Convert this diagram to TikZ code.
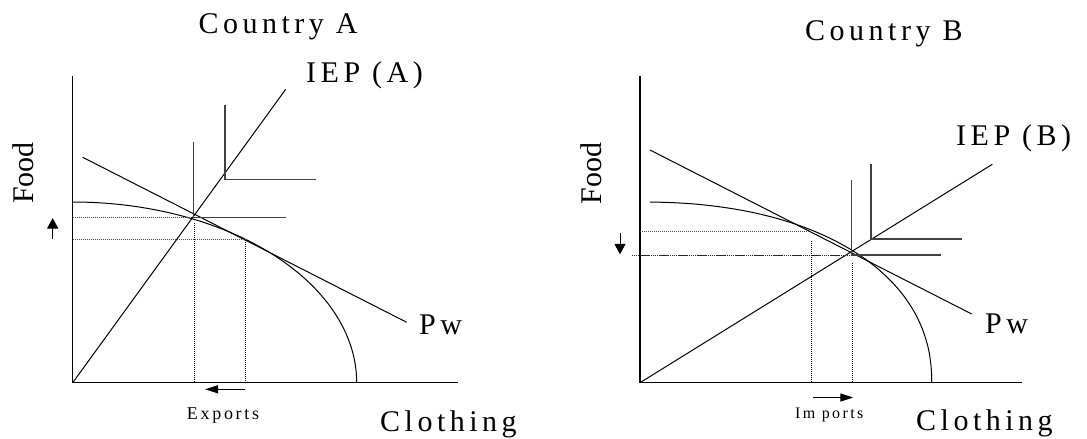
\documentclass[tikz,border=0pt]{standalone}
\usepackage{fontspec}
\setmainfont{Liberation Serif}
\newfontfamily\spaced[LetterSpace=15]{Liberation Serif}
\usetikzlibrary{arrows.meta}
\begin{document}
\begin{tikzpicture}[x=1pt,y=-1pt,
  axis/.style={line width=1.1pt},
  curve/.style={line width=1pt},
  icurve/.style={line width=1.2pt, black!75},
  hguide/.style={line width=0.8pt, dash pattern=on 1pt off 1pt, black!70},
  vguide/.style={line width=1.2pt, dash pattern=on 1pt off 1pt},
  mixguide/.style={line width=0.9pt, black!85, dash pattern=on 1pt off 1pt on 1pt off 1pt on 1pt off 1pt on 1pt off 1pt on 10pt off 1pt},
  big/.style={font=\spaced\fontsize{30}{36}\selectfont, inner sep=0pt, anchor=base west},
  small/.style={font=\spaced\fontsize{18}{22}\selectfont, inner sep=0pt, anchor=base west},
  smaller/.style={font=\spaced\fontsize{16}{20}\selectfont, inner sep=0pt, anchor=base west},
  foodlbl/.style={font=\fontsize{30}{36}\selectfont, inner sep=0pt, anchor=base, rotate=90},
  varr/.style={line width=1pt, -{Triangle[length=10.5pt,width=11pt]}},
  harr/.style={line width=1pt, -{Triangle[length=13pt,width=8pt]}}
]
\useasboundingbox (0,0) rectangle (1087,439);

% ---------------- Country A ----------------
\coordinate (OA) at (72.7,382.7);
\coordinate (YA) at (72.7,76);
\coordinate (XA) at (458,382.7);
\coordinate (IEPA) at (285.7,89.3);
\coordinate (PwA1) at (82.7,157.3);
\coordinate (PwA2) at (406.7,322.3);
\coordinate (CA) at (193.3,217.3);
\coordinate (PA) at (245,239.3);

\draw[axis] (YA) -- (OA) -- (XA);
\draw[curve] (OA) -- (IEPA);
\draw[curve] (PwA1) -- (PwA2);
\draw[curve] plot[domain=90:0, samples=90] ({72.7+284*cos(\x)},{382.7-180.7*sin(\x)});

\draw[icurve] (193.3,142) -- (193.3,217.3) -- (285.7,217.3);
\draw[icurve] (225,105.3) -- (225,179.7) -- (316,179.7);

\draw[hguide] (72.7,217.3) -- (CA);
\draw[hguide] (72.7,239.3) -- (PA);
\draw[vguide] (194.3,223) -- (194.3,382.7);
\draw[vguide] (245.3,240) -- (245.3,382.7);

\coordinate (UA1) at (52.7,239);
\coordinate (UA2) at (52.7,218);
\draw[varr] (UA1) -- (UA2);
\coordinate (EA1) at (245,389.3);
\coordinate (EA2) at (205,389.3);
\draw[harr] (EA1) -- (EA2);

\node[big] (titleA) at (198.3,33.3) {Country A};
\node[big] (iepA) at (306,82) {IEP (A)};
\node[big] (pwA) at (419,334) {Pw};
\node[big] (clA) at (380,431.7) {Clothing};
\node[small] (exA) at (186.7,419.3) {Exports};
\node[foodlbl] (foodA) at (33.3,173) {Food};

% ---------------- Country B ----------------
\coordinate (OB) at (640,382.7);
\coordinate (YB) at (640,76);
\coordinate (XB) at (1022.3,382.7);
\coordinate (IEPB) at (992.3,164.3);
\coordinate (PwB1) at (650,150);
\coordinate (PwB2) at (971.7,314);
\coordinate (CB) at (810,231.7);
\coordinate (PB) at (850,255);
\coordinate (PPFBend) at (931.7,382.7);

\draw[axis] (YB) -- (OB) -- (XB);
\draw[curve] (OB) -- (IEPB);
\draw[curve] (PwB1) -- (PwB2);
\draw[curve] plot[domain=88.6:0.5, samples=120] ({640+291.7*exp(0.909*ln(cos(\x)))},{382.7-180.7*exp(0.909*ln(sin(\x)))}) -- (PPFBend);

\draw[icurve] (851.7,180) -- (851.7,255) -- (941,255);
\draw[icurve] (871,164.3) -- (871,239) -- (961.7,239);

\draw[hguide] (640,231.7) -- (CB);
\draw[mixguide] (631.7,255) -- (PB);
\draw[vguide] (811.7,240.7) -- (811.7,382.7);
\draw[vguide] (852.3,263.3) -- (852.3,382.7);

\coordinate (DB1) at (620,233);
\coordinate (DB2) at (620,254.3);
\draw[varr] (DB1) -- (DB2);
\coordinate (IB1) at (813.3,397.5);
\coordinate (IB2) at (853.3,397.5);
\draw[harr] (IB1) -- (IB2);

\node[big] (titleB) at (805,40.7) {Country B};
\node[big] (iepB) at (956,145.5) {IEP (B)};
\node[big] (pwB) at (985,333.3) {Pw};
\node[big] (clB) at (916,430.5) {Clothing};
\node[smaller] (imB) at (795,418.3) {Im ports};
\node[foodlbl] (foodB) at (601.7,173.3) {Food};
\end{tikzpicture}
\end{document}
